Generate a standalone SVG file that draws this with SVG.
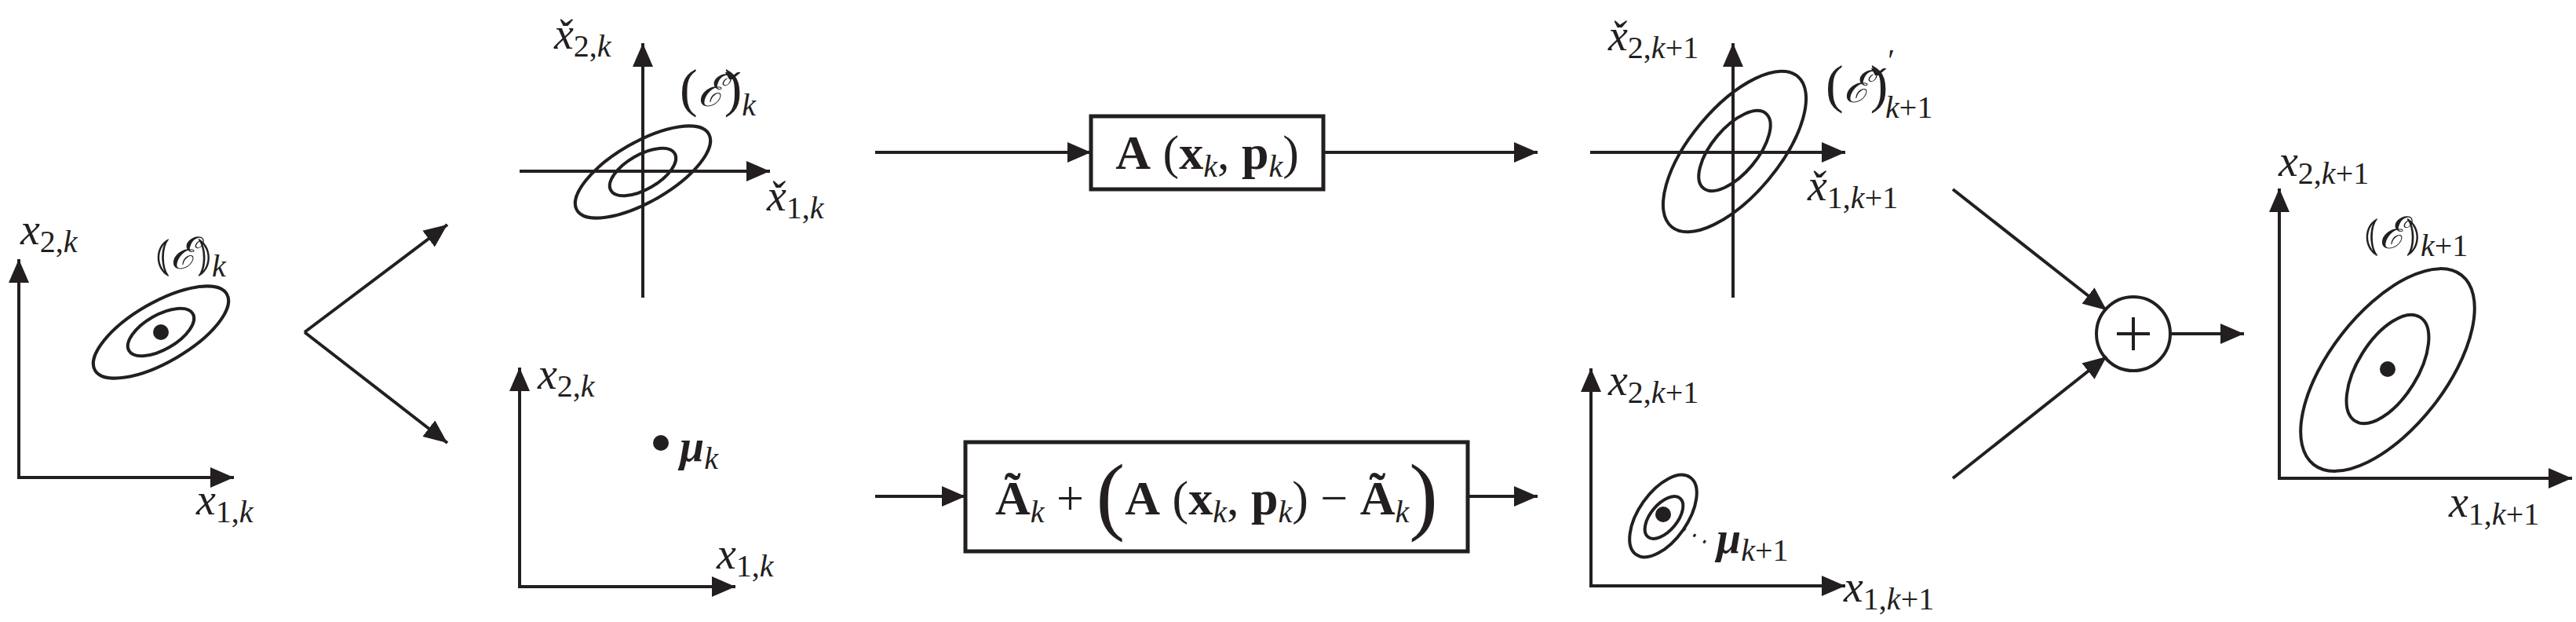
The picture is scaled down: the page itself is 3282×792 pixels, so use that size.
<svg xmlns="http://www.w3.org/2000/svg" width="3282" height="792" viewBox="0 0 3282 792">
<style>
.ln{stroke:#231f20;stroke-width:4;fill:none}
.ar{stroke:#231f20;stroke-width:4;fill:none;marker-end:url(#ah)}
.el{stroke:#231f20;stroke-width:4;fill:none}
.bx{stroke:#231f20;stroke-width:5;fill:#fff}
.m{font-family:"Liberation Serif","DejaVu Serif",serif;font-style:italic;font-size:56px;fill:#231f20}
.r{font-style:normal}
.s{font-size:40px}
.b{font-family:"Liberation Serif","DejaVu Serif",serif;font-size:62px;fill:#231f20}
</style>
<defs>
<marker id="ah" markerUnits="userSpaceOnUse" markerWidth="32" markerHeight="26" refX="30" refY="13" orient="auto"><path d="M0,0 L30,13 L0,26 z" fill="#231f20"/></marker>
</defs>
<g id="connectors">
<line class="ar" x1="388" y1="423" x2="570" y2="286"/>
<line class="ar" x1="388" y1="423" x2="570" y2="564"/>
<line class="ar" x1="1115" y1="194" x2="1390" y2="194"/>
<line class="ar" x1="1686" y1="194" x2="1959" y2="194"/>
<line class="ar" x1="1115" y1="632" x2="1230" y2="632"/>
<line class="ar" x1="1870" y1="632" x2="1959" y2="632"/>
<line class="ar" x1="2488" y1="241" x2="2684" y2="395"/>
<line class="ar" x1="2488" y1="609" x2="2684" y2="454"/>
<line class="ar" x1="2765" y1="425" x2="2859" y2="425"/>
</g>
<g id="panel1">
<line class="ar" x1="24" y1="608" x2="24" y2="330"/>
<line class="ar" x1="22" y1="608" x2="298" y2="608"/>
<ellipse class="el" cx="205" cy="423" rx="97" ry="38" transform="rotate(-30 205 423)"/>
<ellipse class="el" cx="205" cy="423" rx="47" ry="22" transform="rotate(-30 205 423)"/>
<circle cx="205" cy="423" r="10" fill="#231f20"/>
<text class="m" x="26" y="311">x<tspan class="s r" dy="10">2,</tspan><tspan class="s">k</tspan></text>
<text class="m" x="250" y="655">x<tspan class="s r" dy="10">1,</tspan><tspan class="s">k</tspan></text>
<text class="m" x="198" y="342"><tspan class="r">⦅</tspan>ℰ<tspan class="r">⦆</tspan><tspan class="s" dy="10">k</tspan></text>
</g>
<g id="panel-top-mid">
<line class="ar" x1="662" y1="218" x2="981" y2="218"/>
<line class="ar" x1="819" y1="379" x2="819" y2="55"/>
<ellipse class="el" cx="819" cy="219" rx="97" ry="38" transform="rotate(-30 819 219)"/>
<ellipse class="el" cx="819" cy="219" rx="47" ry="22" transform="rotate(-30 819 219)"/>
<text class="m" x="706" y="62">x̌<tspan class="s r" dy="10">2,</tspan><tspan class="s">k</tspan></text>
<text class="m" x="977" y="268">x̌<tspan class="s r" dy="10">1,</tspan><tspan class="s">k</tspan></text>
<text class="m" x="866" y="135"><tspan class="r" font-size="68">(</tspan>ℰ̌<tspan class="r" font-size="68">)</tspan><tspan class="s" dy="12">k</tspan></text>
</g>
<g id="box-top">
<rect class="bx" x="1390" y="148" width="296" height="93"/>
<text class="b" x="1538" y="215" text-anchor="middle"><tspan font-weight="bold">A</tspan> (<tspan font-weight="bold">x</tspan><tspan class="m s" dy="10">k</tspan><tspan dy="-10">, </tspan><tspan font-weight="bold">p</tspan><tspan class="m s" dy="10">k</tspan><tspan dy="-10">)</tspan></text>
</g>
<g id="panel-top-right">
<line class="ar" x1="2026" y1="194" x2="2351" y2="194"/>
<line class="ar" x1="2208" y1="379" x2="2208" y2="55"/>
<ellipse class="el" cx="2210" cy="193" rx="125" ry="56" transform="rotate(-50 2210 193)"/>
<ellipse class="el" cx="2210" cy="192" rx="62" ry="29" transform="rotate(-50 2210 192)"/>
<text class="m" x="2049" y="64">x̌<tspan class="s r" dy="10">2,</tspan><tspan class="s">k</tspan><tspan class="s r">+1</tspan></text>
<text class="m" x="2303" y="255">x̌<tspan class="s r" dy="10">1,</tspan><tspan class="s">k</tspan><tspan class="s r">+1</tspan></text>
<text class="m" x="2326" y="130"><tspan class="r" font-size="68">(</tspan>ℰ̌<tspan class="r" font-size="68">)</tspan><tspan class="s r" dy="-40">′</tspan><tspan class="s" dx="-12" dy="60">k</tspan><tspan class="s r">+1</tspan></text>
</g>
<g id="panel-bottom-mid">
<line class="ar" x1="662" y1="747" x2="662" y2="468"/>
<line class="ar" x1="660" y1="747" x2="937" y2="747"/>
<circle cx="842" cy="564" r="10" fill="#231f20"/>
<text class="m" x="685" y="495">x<tspan class="s r" dy="10">2,</tspan><tspan class="s">k</tspan></text>
<text class="m" x="866" y="587" font-weight="bold">μ<tspan class="s" font-weight="normal" dy="10">k</tspan></text>
<text class="m" x="913" y="724">x<tspan class="s r" dy="10">1,</tspan><tspan class="s">k</tspan></text>
</g>
<g id="box-bottom">
<rect class="bx" x="1230" y="563" width="640" height="139"/>
<text class="b" x="1550" y="655" text-anchor="middle"><tspan font-weight="bold">Ã</tspan><tspan class="m s" dy="10">k</tspan><tspan dy="-10"> + </tspan><tspan font-size="110" dy="12">(</tspan><tspan font-weight="bold" dy="-12">A</tspan> (<tspan font-weight="bold">x</tspan><tspan class="m s" dy="10">k</tspan><tspan dy="-10">, </tspan><tspan font-weight="bold">p</tspan><tspan class="m s" dy="10">k</tspan><tspan dy="-10">) − </tspan><tspan font-weight="bold">Ã</tspan><tspan class="m s" dy="10">k</tspan><tspan font-size="110" dy="2">)</tspan></text>
</g>
<g id="panel-bottom-right">
<line class="ar" x1="2027" y1="746" x2="2027" y2="469"/>
<line class="ar" x1="2025" y1="746" x2="2351" y2="746"/>
<ellipse class="el" cx="2119" cy="657" rx="60" ry="31" transform="rotate(-55 2119 657)"/>
<ellipse class="el" cx="2120" cy="659" rx="32" ry="17" transform="rotate(-50 2120 659)"/>
<circle cx="2119" cy="655" r="10" fill="#231f20"/>
<line x1="2145" y1="673" x2="2175" y2="692" stroke="#231f20" stroke-width="4" stroke-dasharray="3 12"/>
<text class="m" x="2049" y="503">x<tspan class="s r" dy="10">2,</tspan><tspan class="s">k</tspan><tspan class="s r">+1</tspan></text>
<text class="m" x="2187" y="704" font-weight="bold">μ<tspan class="s" font-weight="normal" dy="10">k</tspan><tspan class="s r" font-weight="normal">+1</tspan></text>
<text class="m" x="2349" y="766">x<tspan class="s r" dy="10">1,</tspan><tspan class="s">k</tspan><tspan class="s r">+1</tspan></text>
</g>
<g id="sum">
<circle class="el" cx="2718" cy="425" r="47"/>
<line class="ln" x1="2697" y1="425" x2="2739" y2="425" stroke-width="3"/>
<line class="ln" x1="2718" y1="404" x2="2718" y2="446" stroke-width="3"/>
</g>
<g id="panel-final">
<line class="ar" x1="2904" y1="609" x2="2904" y2="240"/>
<line class="ar" x1="2902" y1="609" x2="3277" y2="609"/>
<ellipse class="el" cx="3042" cy="471" rx="153" ry="74" transform="rotate(-52 3042 471)"/>
<ellipse class="el" cx="3042" cy="470" rx="78" ry="38" transform="rotate(-58 3042 470)"/>
<circle cx="3042" cy="470" r="10" fill="#231f20"/>
<text class="m" x="2903" y="224">x<tspan class="s r" dy="10">2,</tspan><tspan class="s">k</tspan><tspan class="s r">+1</tspan></text>
<text class="m" x="3012" y="316"><tspan class="r">⦅</tspan>ℰ<tspan class="r">⦆</tspan><tspan class="s" dy="10">k</tspan><tspan class="s r">+1</tspan></text>
<text class="m" x="3120" y="658">x<tspan class="s r" dy="10">1,</tspan><tspan class="s">k</tspan><tspan class="s r">+1</tspan></text>
</g>
</svg>
